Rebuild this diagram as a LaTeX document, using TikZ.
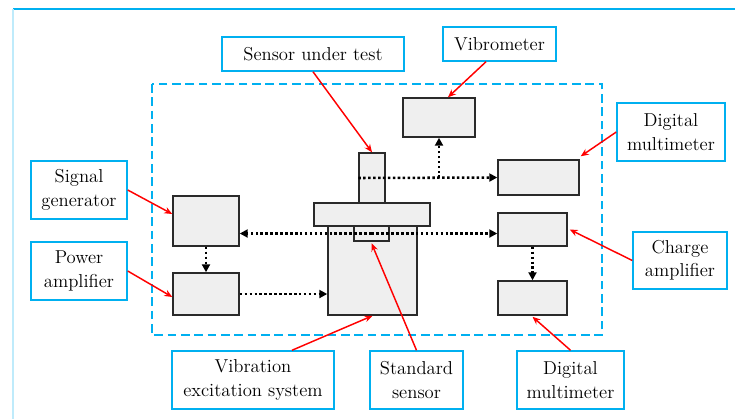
\documentclass[tikz,border=0pt]{standalone}
\usepackage{fontspec}
\usetikzlibrary{arrows.meta,calc}
\definecolor{cyanline}{HTML}{00B0F0}
\definecolor{boxgray}{HTML}{EFEFEF}
\definecolor{boxedge}{HTML}{2A2A2A}
\newdimen\pu \pu=0.75pt
\tikzset{
  lbl/.style={draw=cyanline, line width=1.1pt, fill=white, inner sep=0pt, align=center,
    font=\rmfamily\fontsize{14}{17.5}\selectfont},
  gbox/.style={draw=boxedge, line width=1.1pt, fill=boxgray, inner sep=0pt},
  dotarrow/.style={line width=1.9pt, dash pattern=on 1.9pt off 1.8pt,
    -{Triangle[length=6pt,width=6pt]}},
  redarrow/.style={draw=red, line width=1.1pt, -{Stealth[length=6pt,width=5pt]}},
}
\begin{document}
\begin{tikzpicture}[x=0.75pt,y=-0.75pt]
\useasboundingbox (0,0) rectangle (735,419);
% outer frame
\coordinate (ftl) at (13,9);
\coordinate (ftr) at (735,9);
\coordinate (fbl) at (13,419);
\draw[cyanline, line width=0.9pt] (ftl) -- (ftr);
\draw[cyanline!25, line width=0.8pt] (ftl) -- (fbl);
% dashed region
\coordinate (dtl) at (152,84);
\coordinate (dbr) at (602,335);
\draw[cyanline, line width=1.5pt, dash pattern=on 6.5pt off 3.5pt] (dtl) rectangle (dbr);
% gray boxes
\node[gbox, minimum width=72\pu, minimum height=39\pu] (vib) at (439,117.5) {};
\node[gbox, minimum width=81\pu, minimum height=35\pu] (dmm1) at (538.5,177.5) {};
\node[gbox, minimum width=69\pu, minimum height=33\pu] (ca) at (532.5,229.5) {};
\node[gbox, minimum width=69\pu, minimum height=34\pu] (dmm2) at (532.5,298) {};
\node[gbox, minimum width=66\pu, minimum height=50\pu] (sg) at (206,221) {};
\node[gbox, minimum width=66\pu, minimum height=42\pu] (pa) at (206,294) {};
\node[gbox, minimum width=89\pu, minimum height=90\pu] (body) at (372.5,270) {};
\node[gbox, minimum width=26\pu, minimum height=50\pu] (col) at (372,178) {};
\node[gbox, minimum width=116\pu, minimum height=23\pu] (table) at (372,214.5) {};
\node[gbox, minimum width=35\pu, minimum height=15\pu] (std) at (371.5,233.5) {};
% labels
\node[lbl, minimum width=182\pu, minimum height=34\pu] (sutl) at (313,54) {Sensor under test};
\node[lbl, minimum width=113\pu, minimum height=34\pu] (vibl) at (499.5,44) {Vibrometer};
\node[lbl, minimum width=108\pu, minimum height=58\pu] (dmml1) at (671,132) {Digital\\multimeter};
\node[lbl, minimum width=94\pu, minimum height=57\pu] (cal) at (680,260.5) {Charge\\amplifier};
\node[lbl, minimum width=96\pu, minimum height=58\pu] (sgl) at (79,190) {Signal\\generator};
\node[lbl, minimum width=96\pu, minimum height=58\pu] (pal) at (79,271) {Power\\amplifier};
\node[lbl, minimum width=162\pu, minimum height=58\pu] (vel) at (253,380) {Vibration\\excitation system};
\node[lbl, minimum width=93\pu, minimum height=58\pu] (stdl) at (416.5,380) {Standard\\sensor};
\node[lbl, minimum width=107\pu, minimum height=58\pu] (dmml2) at (570.5,380) {Digital\\multimeter};
% dotted signal paths
\coordinate (jv) at (vib.south |- col.west);
\draw[dotarrow] (col.west) -- (dmm1.west);
\draw[dotarrow] (jv) -- (vib.south);
\draw[dotarrow] (std.center) -- (std.center -| sg.east);
\draw[dotarrow] (std.center) -- (std.center -| ca.west);
\draw[dotarrow] (sg.south) -- (pa.north);
\draw[dotarrow] (pa.east) -- (pa.east -| body.west);
\draw[dotarrow] (ca.south) -- (dmm2.north);
% red pointers
\draw[redarrow] (sutl.south) -- (col.north);
\draw[redarrow] ([xshift=-13.5\pu]vibl.south) -- ([xshift=9\pu]vib.north);
\draw[redarrow] (dmml1.west) -- ([xshift=1\pu,yshift=3\pu]dmm1.north east);
\draw[redarrow] (sgl.east) -- ([yshift=7\pu]sg.west);
\draw[redarrow] (pal.east) -- ([yshift=-3\pu]pa.west);
\draw[redarrow] (cal.west) -- ([xshift=2\pu]ca.east);
\draw[redarrow] ([xshift=39\pu]vel.north) -- (body.south);
\draw[redarrow] (stdl.north) -- ([yshift=-1.5\pu]std.south);
\draw[redarrow] (dmml2.north) -- ([yshift=-1\pu]dmm2.south);
\end{tikzpicture}
\end{document}
